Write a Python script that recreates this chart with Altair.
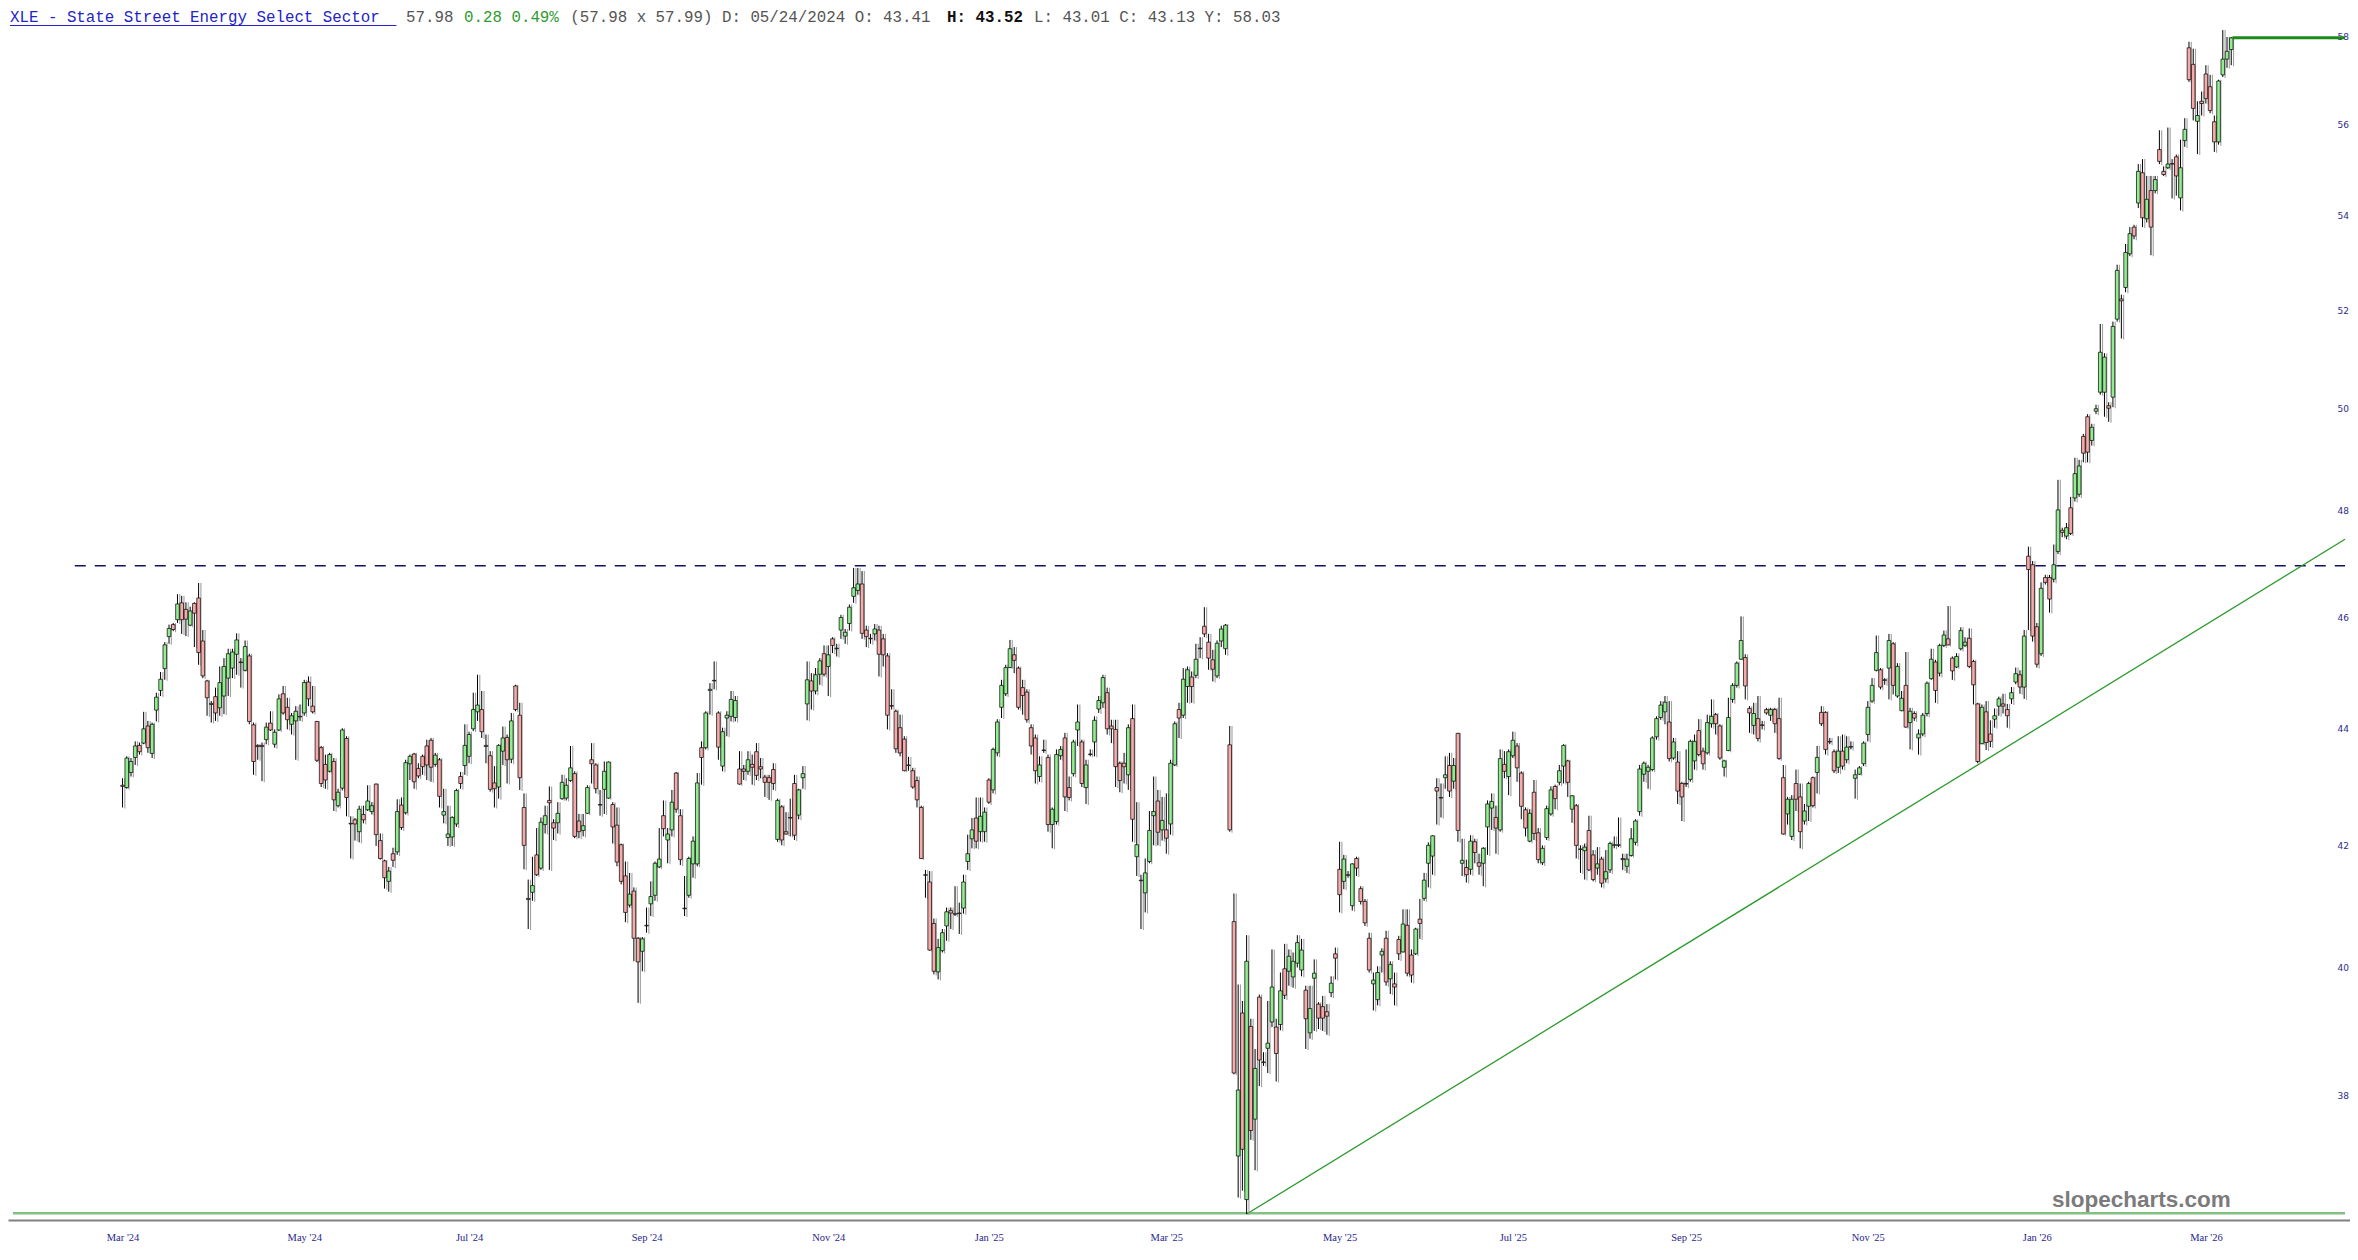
import altair as alt
import pandas as pd

# ---- daily candles (open, high, low, close) ----
candles_mar_jun_2024 = [
(43.02,43.14,42.64,43.0),(42.98,43.52,42.96,43.49),(43.24,43.49,43.17,43.43),(43.5,43.78,43.37,43.7),
(43.71,43.76,43.55,43.6),(43.75,44.3,43.73,44.0),(44.05,44.14,43.58,43.67),(43.57,44.11,43.49,44.08),
(44.33,44.64,44.13,44.56),(44.68,45.01,44.58,44.88),(45.07,45.55,44.87,45.5),(45.65,45.87,45.52,45.8),
(45.87,45.9,45.75,45.78),(45.96,46.43,45.9,46.25),(46.27,46.4,45.7,45.96),(46.15,46.28,45.66,45.97),
(45.86,46.2,45.84,46.12),(46.26,46.28,45.46,46.08),(46.36,46.64,45.14,45.36),(45.57,45.77,44.9,44.94),
(44.85,44.87,44.23,44.55),(44.45,44.49,44.11,44.43),(44.57,44.73,44.14,44.28),(44.37,45.11,44.23,44.82),
(44.58,45.26,44.26,45.11),(44.9,45.43,44.58,45.34),(45.08,45.43,44.9,45.37),(45.33,45.71,44.96,45.59),
(45.19,45.26,44.73,45.18),(45.04,45.58,45.02,45.47),(45.3,45.34,44.08,44.13),(44.07,44.11,43.2,43.43),
(43.71,43.73,43.46,43.69),(43.71,43.76,43.09,43.69),(43.81,44.11,43.73,44.03),(44.1,44.31,43.96,43.98),
(43.73,43.99,43.67,43.94),(43.98,44.61,43.96,44.53),(44.62,44.76,44.25,44.28),(44.38,44.55,43.99,44.16),
(44.08,44.28,43.9,44.23),(44.14,44.4,43.46,44.31),(44.22,44.43,44.14,44.21),(44.28,44.87,44.23,44.82),
(44.83,44.93,44.4,44.53),(44.4,44.76,44.27,44.3),(44.13,44.14,43.42,43.45),(43.67,43.7,42.99,43.05),
(43.38,43.55,42.96,43.11),(43.26,43.58,43.24,43.55),(43.43,43.49,42.58,42.77),(42.67,42.96,42.64,42.9),
(42.97,44.01,42.93,43.98),(43.83,43.87,42.49,42.81),(42.37,42.49,41.78,42.36),(42.43,42.46,42.08,42.36),
(42.23,42.67,42.05,42.61),(42.52,42.67,42.37,42.43),(42.6,43.02,42.58,42.75),(42.57,42.73,42.52,42.67),
(43.04,43.05,41.99,42.18),(42.08,42.2,41.76,41.78),(41.74,41.76,41.28,41.46),(41.4,41.64,41.23,41.57),
(41.86,41.96,41.64,41.75),(41.89,42.78,41.84,42.57),(42.68,42.81,42.26,42.3),(42.55,43.46,42.52,43.41),
(43.39,43.55,43.11,43.52),(43.56,43.58,42.96,43.08),(43.31,43.4,43.14,43.18),(43.52,43.55,43.2,43.34),
(43.7,43.81,43.11,43.37),(43.8,43.84,43.08,43.33),(43.38,43.58,43.34,43.54),(43.46,43.49,42.64,42.83),
(42.51,42.96,42.37,42.57),(42.13,42.67,41.99,42.19),(42.14,42.49,41.99,42.47),(42.36,42.96,42.31,42.93),
(43.17,43.25,42.96,43.05),(43.36,44.08,43.2,43.71),(43.52,43.95,43.4,43.9),
]

candles_jul_oct_2024 = [
(44.0,44.64,43.96,44.34),(44.3,44.96,44.14,44.42),(44.34,44.67,43.84,43.95),(43.71,43.9,43.4,43.69),
(43.53,43.61,42.91,42.95),(43.06,43.35,42.64,42.96),(42.99,43.73,42.79,43.71),(43.61,44.04,43.37,43.84),
(43.85,43.9,43.05,43.46),(43.47,44.28,43.4,44.14),(44.76,44.78,44.31,44.34),(44.24,44.46,42.94,43.15),
(42.64,42.88,41.6,42.0),(41.12,41.43,40.62,41.1),(41.22,41.81,41.08,41.33),(41.84,42.29,41.49,41.51),
(41.62,42.47,41.59,42.39),(42.35,42.67,42.2,42.5),(42.76,43.0,41.59,42.72),(42.38,42.44,42.09,42.29),
(42.38,42.73,42.2,42.54),(42.79,43.2,42.77,43.07),(42.8,43.14,42.76,43.02),(43.1,43.7,43.08,43.32),
(43.22,43.26,42.12,42.15),(42.41,42.53,42.12,42.23),(42.25,42.53,42.15,42.33),(42.54,43.02,42.53,42.98),
(43.46,43.75,43.05,43.39),(43.37,43.4,42.88,42.96),(42.69,42.94,42.5,42.68),(42.95,43.43,42.53,43.26),
(42.8,43.43,42.79,43.42),(42.69,42.73,42.03,42.31),(42.34,42.64,41.65,41.72),(42.01,42.03,41.35,41.4),
(41.49,41.73,40.73,40.89),(41.01,41.54,40.97,41.19),(41.24,41.3,40.1,40.47),(40.47,40.49,39.44,40.09),
(40.26,40.49,39.94,40.46),(40.68,40.97,40.56,40.67),(41.03,41.4,40.83,41.15),(41.17,41.73,41.08,41.7),
(41.64,42.29,41.62,41.77),(42.5,42.76,42.15,42.28),(42.09,42.29,41.7,42.19),(42.26,42.94,42.15,42.73),
(43.23,43.25,42.55,42.61),(42.5,42.61,41.67,41.76),(40.96,41.49,40.83,40.95),(41.17,41.81,41.13,41.78),
(41.69,42.15,41.46,42.07),(41.69,43.23,41.65,43.06),(43.67,43.78,43.03,43.5),(43.67,44.31,43.64,44.28),
(44.68,44.81,44.25,44.7),(44.86,45.2,44.7,44.85),(44.28,44.31,43.46,43.68),(43.35,44.02,43.26,43.95),
(44.19,44.31,43.87,44.24),(44.22,44.67,44.13,44.52),(44.2,44.58,44.13,44.5),(43.3,43.61,43.03,43.04),
(43.3,43.37,43.11,43.26),(43.26,43.61,43.2,43.46),(43.38,43.55,43.03,43.33),(43.6,43.75,43.11,43.19),
(43.34,43.49,43.14,43.3),(43.16,43.2,42.82,43.07),(43.15,43.2,42.77,43.07),(43.29,43.4,42.94,43.05),
(42.1,42.79,42.06,42.76),(42.65,42.68,42.0,42.09),(42.23,42.56,42.18,42.19),(42.47,42.79,42.15,42.46),
(43.05,43.2,42.09,42.17),(42.51,42.96,42.44,42.94),(43.15,43.35,42.96,43.22),(44.44,45.2,44.15,44.87),
(44.85,44.99,44.34,44.67),(44.67,45.08,44.61,44.96),(44.97,45.26,44.78,45.21),(45.34,45.49,44.93,44.97),
]

candles_nov24_mar25 = [
(45.11,45.49,44.58,45.32),(45.61,45.64,45.35,45.49),(45.44,45.52,45.29,45.43),(45.77,46.05,45.61,46.0),
(45.66,45.79,45.52,45.73),(45.89,46.24,45.76,46.19),(46.39,46.92,46.27,46.55),(46.5,46.92,46.42,46.62),
(46.62,46.86,45.61,45.71),(45.77,45.85,45.46,45.65),(45.62,45.7,45.52,45.61),(45.7,45.88,45.58,45.79),
(45.77,45.85,44.93,45.33),(45.61,45.7,45.11,45.32),(45.3,45.35,43.99,44.24),(44.41,44.7,44.34,44.4),
(44.31,44.34,43.58,43.65),(44.02,44.25,43.52,43.58),(43.82,43.87,43.26,43.27),(43.37,43.51,43.27,43.36),
(43.27,43.32,42.96,42.99),(43.1,43.17,42.64,42.77),(42.64,42.67,41.77,41.78),(41.51,41.59,41.13,41.5),
(41.39,41.57,40.27,40.28),(40.71,40.79,39.89,39.94),(39.93,40.46,39.81,40.32),(40.27,40.62,40.24,40.56),
(40.67,40.97,40.43,40.9),(40.92,40.97,40.62,40.88),(40.87,41.32,40.83,40.86),(40.88,41.05,40.54,40.87),
(40.96,41.51,40.87,41.39),(41.73,42.18,41.59,41.86),(42.11,42.46,41.95,42.26),(42.46,42.81,41.95,42.07),
(42.23,42.81,42.06,42.49),(42.23,42.64,42.06,42.56),(43.11,43.14,42.7,42.73),(42.94,43.67,42.88,43.64),
(43.58,44.17,43.52,44.12),(44.38,44.87,44.19,44.77),(44.62,45.14,44.58,45.09),(45.09,45.59,45.08,45.43),
(45.32,45.46,44.99,45.22),(45.08,45.11,44.34,44.38),(44.73,44.87,44.25,44.59),(44.65,44.7,44.11,44.16),
(44.02,44.08,43.55,43.7),(43.84,43.9,43.05,43.27),(43.17,43.52,43.08,43.37),(43.63,43.81,43.58,43.62),
(43.5,43.55,42.23,42.35),(42.35,42.64,41.95,42.61),(42.4,43.64,42.35,43.55),(43.53,43.7,43.46,43.64),
(43.84,43.93,42.58,42.82),(42.98,43.17,42.76,42.81),(43.22,43.81,43.17,43.77),(43.98,44.43,43.7,44.12),
(43.77,43.81,42.99,43.05),(42.98,43.46,42.7,43.37),(43.56,43.64,43.52,43.55),(43.77,44.22,43.52,44.15),
(44.35,44.58,44.28,44.5),(44.46,44.96,44.37,44.91),(44.64,44.73,43.9,44.0),(44.05,44.16,43.75,44.0),
(43.99,44.16,42.99,43.34),(43.4,43.43,42.9,43.1),(43.4,43.58,43.05,43.34),(43.2,44.08,42.94,44.02),
(44.18,44.43,42.06,42.44),(41.81,42.73,41.49,42.01),(41.42,41.51,40.62,41.41),(41.21,41.78,40.89,41.54),
(41.73,42.58,41.7,42.25),(42.5,43.17,42.0,42.57),(42.75,42.94,42.0,42.22),(42.26,42.82,42.08,42.42),
(42.26,42.88,41.86,42.12),(42.36,43.46,42.18,43.4),(43.37,44.13,43.35,44.09),(44.34,44.46,43.84,44.19),
(44.24,45.08,44.19,44.88),(44.75,45.11,44.46,45.05),(44.92,45.02,44.46,44.75),(44.95,45.52,44.9,45.24),
(45.44,45.64,45.26,45.43),(45.84,46.19,45.64,45.7),(45.55,45.7,45.05,45.26),(45.23,45.41,44.84,45.06),
(44.94,45.58,44.9,45.53),(45.57,45.85,45.46,45.79),(45.43,45.88,45.32,45.86),(43.72,44.05,42.23,42.26),
]

candles_apr_jul_2025 = [
(40.74,41.2,38.33,38.35),(37.1,39.73,36.49,38.09),(39.28,39.47,36.59,37.2),(36.46,40.52,36.25,40.1),
(39.07,39.19,37.34,37.48),(37.65,38.72,36.89,38.42),(39.53,39.57,38.15,38.55),(38.52,38.67,38.46,38.51),
(38.73,39.47,38.35,38.81),(39.14,40.29,39.06,39.69),(39.06,39.19,38.22,38.65),(39.1,39.92,39.01,39.63),
(39.98,40.38,39.5,39.56),(39.94,40.29,39.71,40.18),(39.85,40.24,39.68,40.1),(40.07,40.52,40.0,40.4),
(39.96,40.46,39.86,40.28),(39.64,39.71,38.72,39.19),(38.97,39.71,38.88,39.35),(39.83,40.13,39.0,39.91),
(39.42,39.45,39.03,39.2),(39.38,39.55,39.0,39.2),(39.3,39.42,38.94,39.23),(39.6,39.86,39.53,39.75),
(40.22,40.32,39.81,40.15),(41.6,42.06,40.89,41.18),(41.4,41.84,41.27,41.77),(41.51,41.57,41.46,41.5),
(41.0,41.7,40.92,41.69),(41.78,41.81,41.49,41.62),(41.28,41.32,41.02,41.07),(41.07,41.11,40.67,40.72),
(40.47,40.56,39.92,39.96),(39.74,39.92,39.32,39.8),(39.49,40.02,39.4,39.92),(40.2,40.31,39.92,40.26),
(40.47,40.59,39.71,39.77),(39.82,40.1,39.58,40.05),(39.74,39.92,39.4,39.69),(40.45,40.51,40.12,40.22),
(40.25,40.94,40.24,40.7),(40.68,40.94,39.86,39.91),(40.2,40.29,39.76,39.88),(40.22,40.64,40.2,40.62),
(40.78,41.11,40.46,40.71),(41.12,41.54,41.08,41.42),(41.7,42.05,41.3,42.0),(41.82,42.17,41.51,42.16),
(42.98,43.14,42.35,42.92),(42.81,43.05,42.47,42.8),(43.15,43.52,42.96,43.2),(43.36,43.58,42.82,42.92),
(43.09,43.49,42.96,43.36),(43.92,43.93,42.06,42.25),(41.7,42.11,41.49,41.75),(41.63,41.76,41.38,41.51),
(41.6,42.17,41.51,42.07),(42.06,42.11,41.7,41.88),(41.71,41.86,41.51,41.65),(41.7,41.97,41.32,41.95),
(42.31,42.76,41.84,42.7),(42.63,42.88,42.26,42.74),(42.47,42.67,41.86,42.29),(42.26,43.64,42.23,43.48),
(43.38,43.61,43.14,43.26),(43.17,43.64,42.85,43.6),(43.53,43.95,43.49,43.8),(43.7,43.75,43.08,43.32),
(43.23,43.26,42.44,42.66),(42.6,42.64,42.15,42.29),(42.07,42.61,42.05,42.54),(42.9,43.11,42.09,42.2),
(42.21,42.29,41.7,41.76),(41.71,42.0,41.67,41.95),(42.13,42.67,42.09,42.62),(42.53,43.0,42.5,42.94),
(43.0,43.03,42.61,42.79),
]

candles_jul_dec_2025 = [
(43.07,43.37,43.02,43.27),(43.35,43.73,43.05,43.71),(43.44,43.46,42.82,43.07),(42.61,42.85,42.38,42.84),
(42.67,42.7,41.78,42.0),(41.94,42.0,41.54,41.93),(41.91,42.03,41.43,41.97),(42.25,42.5,41.57,41.59),
(41.84,41.92,41.4,41.43),(41.62,41.97,41.51,41.69),(41.77,41.81,41.3,41.37),(41.44,41.92,41.38,41.56),
(41.59,42.06,41.54,42.03),(42.01,42.15,41.95,42.0),(42.0,42.47,41.97,42.01),(41.78,41.86,41.59,41.76),
(41.65,41.86,41.54,41.77),(41.83,42.29,41.81,42.11),(42.05,42.44,42.0,42.41),(42.57,43.37,42.5,43.3),
(43.21,43.43,43.08,43.4),(43.26,43.37,42.96,43.33),(43.29,43.87,43.26,43.84),(43.86,44.22,43.81,44.18),
(44.2,44.49,44.16,44.42),(44.3,44.58,44.08,44.47),(44.12,44.49,43.43,43.48),(43.49,43.84,43.46,43.77),
(43.42,43.61,42.7,42.92),(43.05,43.08,42.41,42.82),(43.05,43.64,42.99,43.04),(43.12,43.81,43.08,43.78),
(43.44,43.9,43.29,43.78),(43.97,44.17,43.52,43.55),(43.61,43.67,43.29,43.39),(43.58,44.25,43.55,44.11),
(44.09,44.52,44.02,44.22),(44.25,44.28,43.9,44.09),(44.05,44.08,43.46,43.49),(43.33,43.46,43.17,43.44),
(43.62,44.55,43.61,44.2),(44.52,44.81,44.46,44.77),(44.77,45.2,44.73,45.17),(45.24,46.02,45.23,45.58),
(45.27,45.33,44.52,44.76),(44.36,44.4,43.93,44.28),(44.06,44.46,43.9,44.27),(44.18,44.58,43.78,43.83),
(44.07,44.14,43.99,44.06),(44.34,44.37,44.25,44.28),(44.24,44.37,44.14,44.34),(44.34,44.37,43.93,44.09),
(44.18,44.55,43.46,43.48),(43.15,43.37,42.18,42.19),(42.53,42.82,42.35,42.78),(42.15,42.85,42.09,42.78),
(43.05,43.29,42.58,42.78),(42.82,43.05,41.95,42.23),(42.41,42.7,42.35,42.58),(42.66,43.08,42.41,43.05),
(43.15,43.17,42.64,42.67),(43.24,43.7,42.88,43.5),(44.29,44.4,44.05,44.09),(44.29,44.31,43.55,43.64),
(43.78,43.84,43.73,43.77),(43.6,43.64,43.23,43.27),(43.33,43.87,43.23,43.61),(43.61,43.9,43.29,43.35),
(43.46,43.87,43.4,43.68),(43.69,43.78,43.64,43.68),(43.14,43.29,42.79,43.2),(43.21,43.35,43.2,43.32),
(43.39,43.78,43.35,43.75),(43.9,44.49,43.78,44.38),(44.49,44.9,44.46,44.77),(45.04,45.67,45.02,45.36),
(45.05,45.08,44.7,44.74),(44.87,44.9,44.78,44.86),(45.08,45.7,44.52,45.58),(45.52,45.55,44.61,44.77),
(44.58,45.17,44.55,45.11),(44.32,44.67,44.31,44.54),(44.77,45.37,44.02,44.03),(44.11,44.37,43.64,44.31),
(44.27,44.31,44.14,44.19),(43.84,43.99,43.55,43.91),(43.91,44.28,43.87,44.24),(44.27,44.84,44.22,44.81),
(44.89,45.43,44.87,45.24),(45.19,45.23,44.46,44.68),(44.99,45.52,44.93,45.49),(45.49,45.76,45.46,45.68),
(45.61,46.21,45.49,45.5),(45.26,45.29,44.87,45.03),(45.1,45.35,45.08,45.29),(45.43,45.82,45.4,45.76),
(45.49,45.64,45.46,45.55),(45.62,45.8,45.08,45.11),(45.2,45.23,44.43,44.78),(44.44,44.46,43.4,43.43),
(43.74,44.43,43.73,44.38),
]

candles_dec25_mar26 = [
(44.3,44.49,43.63,43.76),(43.91,44.15,43.68,43.78),(44.17,44.36,44.02,44.23),(44.4,44.57,44.23,44.53),
(44.44,44.62,44.27,44.4),(44.34,44.44,44.02,44.23),(44.53,44.74,44.44,44.64),(44.83,45.09,44.79,44.98),
(44.96,45.04,44.62,44.74),(44.74,45.77,44.53,45.66),(47.14,47.32,45.77,46.89),(46.98,47.05,45.56,45.66),
(45.83,45.9,45.09,45.15),(45.34,46.65,45.3,46.54),(46.74,46.79,46.61,46.65),(46.74,46.79,46.09,46.34),
(46.71,47.36,46.65,46.98),(47.23,48.6,47.18,48.02),(47.63,47.68,47.5,47.59),(47.52,47.77,47.46,47.68),
(48.06,48.27,47.54,47.57),(48.25,49.03,48.18,48.72),(48.32,48.99,48.27,48.87),(49.45,49.5,48.94,49.12),
(49.84,49.89,48.94,49.14),(49.37,49.7,49.27,49.63),(49.95,50.08,49.89,50.0),(50.33,51.72,50.28,51.14),
(50.33,51.12,49.84,51.04),(50.06,50.13,49.74,50.01),(50.23,51.77,50.03,51.67),(51.82,52.96,51.77,52.84),
(52.24,52.33,51.42,52.2),(52.48,53.4,52.38,53.22),(53.19,53.76,53.14,53.62),(53.76,53.81,53.5,53.57),
(54.28,55.13,54.17,54.97),(54.94,55.24,53.76,53.96),(53.94,54.87,53.86,54.36),(54.55,54.87,53.16,53.76),
(54.55,54.87,54.49,54.79),(55.45,55.88,55.13,55.19),(54.97,55.08,54.87,54.9),(55.05,55.94,55.02,55.13),
(55.14,55.24,54.38,55.13),(55.29,55.34,54.44,54.87),(54.39,55.67,54.12,55.05),(55.65,56.15,55.51,55.9),
(57.75,57.89,56.97,57.02),(57.37,57.73,56.1,56.37),(56.08,56.53,55.35,56.21),(56.53,56.75,56.21,56.48),
(57.15,57.35,56.48,56.59),(56.86,57.13,56.26,56.32),(56.07,56.21,55.4,55.62),(55.62,57.02,55.56,56.99),
(57.13,58.16,57.08,57.49),(57.49,58.0,57.29,57.67),(57.71,58.0,57.35,57.98),
]

# ---- axis labels ----
month_ticks = [0, 43, 82, 124, 167, 205, 247, 288, 329, 370, 413, 453, 493]
month_labels = ["Mar '24", "May '24", "Jul '24", "Sep '24", "Nov '24", "Jan '25", "Mar '25",
                "May '25", "Jul '25", "Sep '25", "Nov '25", "Jan '26", "Mar '26"]
price_ticks = [38, 40, 42, 44, 46, 48, 50, 52, 54, 56, 58]

# ---- drawn levels ----
resistance_level = 46.96
resistance_start = -11.3
support_floor = 36.26
trend_idx = [266, 525.92]
trend_price = [36.25, 47.46]
last_price = 57.98

header_parts = [
    ("XLE - State Street Energy Select Sector", 0, "#2323c8", "normal"),
    ("57.98", 41, "#555555", "normal"),
    ("0.28 0.49%", 47, "#2f9a2f", "normal"),
    ("(57.98 x 57.99) D: 05/24/2024 O: 43.41", 58, "#555555", "normal"),
    ("H: 43.52", 97, "#111111", "bold"),
    ("L: 43.01 C: 43.13 Y: 58.03", 106, "#555555", "normal"),
]

# ---- build table ----
rows = []
for seg in [candles_mar_jun_2024, candles_jul_oct_2024, candles_nov24_mar25,
            candles_apr_jul_2025, candles_jul_dec_2025, candles_dec25_mar26]:
    rows.extend(seg)
df = pd.DataFrame(rows, columns=["open", "high", "low", "close"])
df["i"] = range(len(df))
df["dir"] = ["up" if c >= o else "down" for o, c in zip(df["open"], df["close"])]

XMIN, XMAX = -25.92, 525.92
TOP = 12                      # top padding (page y of plot top = 8 + TOP)
W, H = 2342, 1212 - TOP

labels_js = "[" + ",".join('"%s"' % l for l in month_labels) + "]"
ticks_js = "[" + ",".join(str(t) for t in month_ticks) + "]"
xaxis = alt.Axis(values=month_ticks, labelExpr=f"{labels_js}[indexof({ticks_js}, datum.value)]",
                 ticks=False, grid=False, title=None, domainColor="#808080", domainWidth=2,
                 labelFont="Liberation Serif", labelFontSize=10.5, labelColor="#26268c",
                 labelPadding=12, labelOverlap=False, labelFlush=False)
yaxis = alt.Axis(values=price_ticks, orient="right", offset=-13, labelPadding=0, ticks=False,
                 domain=False, grid=False, title=None, labelFont="DejaVu Sans", labelFontSize=9,
                 labelColor="#2d2d8a", labelOverlap=False, labelFlush=False)
xscale = alt.Scale(domain=[XMIN, XMAX], nice=False, zero=False)
yscale = alt.Scale(type="log", domain=[36.164, 58.395], nice=False, zero=False)


def X(f):
    return alt.X(f, type="quantitative", scale=xscale, axis=xaxis)


def Y(f):
    return alt.Y(f, type="quantitative", scale=yscale, axis=yaxis)


base = alt.Chart(df)

floor_line = alt.Chart(pd.DataFrame({"i": [XMIN], "i2": [XMAX], "p": [support_floor]})).mark_rule(
    color="#80c080", strokeWidth=2.5).encode(x=X("i"), x2="i2:Q", y=Y("p"))

res_line = alt.Chart(pd.DataFrame({"i": [resistance_start], "i2": [XMAX], "p": [resistance_level]})).mark_rule(
    color="#101060", strokeWidth=1.5, strokeDash=[11, 9]).encode(x=X("i"), x2="i2:Q", y=Y("p"))

trend = alt.Chart(pd.DataFrame({"i": trend_idx, "p": trend_price})).mark_line(
    color="#2a9a2a", strokeWidth=1.3).encode(x=X("i"), y=Y("p"))

shadow = base.mark_rule(color="#a0a0a0", strokeWidth=1.1, xOffset=2.3, yOffset=1).encode(
    x=X("i"), y=Y("low"), y2="high:Q")
wick = base.mark_rule(color="#000000", strokeWidth=1).encode(x=X("i"), y=Y("low"), y2="high:Q")
body = base.mark_bar(width=3.6, stroke="#000000", strokeWidth=0.7).encode(
    x=X("i"), y=Y("open"), y2="close:Q",
    color=alt.Color("dir:N", scale=alt.Scale(domain=["up", "down"], range=["#90ee90", "#f7aaaa"]),
                    legend=None))

last_line = alt.Chart(pd.DataFrame({"i": [len(df) - 0.7], "i2": [XMAX], "p": [last_price]})).mark_rule(
    color="#1b8a1b", strokeWidth=3).encode(x=X("i"), x2="i2:Q", y=Y("p"))

CHAR_W = 9.66
HEAD_BASE = 21.5 - 8 - TOP    # baseline of the header, page y 21.5
layers = [floor_line, res_line, trend, shadow, wick, body, last_line]
one = pd.DataFrame({"a": [0]})
for text, pos, col, wt in header_parts:
    layers.append(alt.Chart(pd.DataFrame({"t": [text]})).mark_text(
        align="left", baseline="alphabetic", font="Liberation Mono", fontSize=15.8,
        color=col, fontWeight=wt).encode(text="t:N", x=alt.value(2 + pos * CHAR_W), y=alt.value(HEAD_BASE)))
layers.append(alt.Chart(one).mark_rule(color="#2323c8", strokeWidth=1.2).encode(
    x=alt.value(2), x2=alt.value(2 + 40 * CHAR_W), y=alt.value(HEAD_BASE + 4.0)))
layers.append(alt.Chart(pd.DataFrame({"t": ["slopecharts.com"]})).mark_text(
    align="left", baseline="alphabetic", font="Liberation Sans", fontSize=22.5, fontWeight="bold",
    color="#7b7b7b").encode(text="t:N", x=alt.value(2044), y=alt.value(1207 - 8 - TOP)))

chart = alt.layer(*layers).properties(
    width=W, height=H,
    autosize=alt.AutoSizeParams(type="none"),
    padding={"left": 0, "top": TOP, "right": 0, "bottom": 40},
    background="white",
).configure_view(stroke=None)

chart.save("out.html", embed_options={"renderer": "svg", "actions": False})
